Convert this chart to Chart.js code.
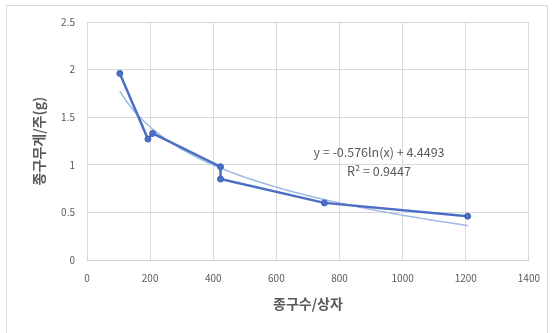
<!DOCTYPE html>
<html>
<head>
<meta charset="utf-8">
<script src="https://cdn.jsdelivr.net/npm/chart.js@4/dist/chart.umd.min.js"></script>
<style>
  html, body { margin: 0; padding: 0; background: #ffffff; }
  #wrap { width: 552px; height: 333px; position: relative; }
</style>
</head>
<body>
<div id="wrap"><canvas id="c" width="552" height="333"></canvas></div>
<script>
// Seed bulbs per box vs. bulb weight per plant
const seedCounts  = [104, 193, 208, 423, 423, 752, 1206];
const seedWeights = [1.96, 1.27, 1.33, 0.98, 0.85, 0.60, 0.46];

// Logarithmic trendline y = a*ln(x) + b and its fit
const trendSlope = -0.576;
const trendIntercept = 4.4493;
const trendR2 = 0.9447;

const xTicks = [0, 200, 400, 600, 800, 1000, 1200, 1400];
const yTicks = [0, 0.5, 1, 1.5, 2, 2.5];

const xTitle = '종구수/상자';
const yTitle = '종구무게/주(g)';
const eqLine1 = 'y = ' + trendSlope.toFixed(3) + 'ln(x) + ' + trendIntercept.toFixed(4);
const eqLine2 = 'R² = ' + trendR2.toFixed(4);

const FONT = "'Noto Sans CJK KR', 'Noto Sans', sans-serif";

// trendline drawn over the observed x range
const xMin = Math.min(...seedCounts), xMax = Math.max(...seedCounts);
const trendPts = [];
for (let x = xMin; x <= xMax; x += 10) {
  trendPts.push({ x: x, y: trendSlope * Math.log(x) + trendIntercept });
}
trendPts.push({ x: xMax, y: trendSlope * Math.log(xMax) + trendIntercept });

const mainPts = seedCounts.map((x, i) => ({ x: x, y: seedWeights[i] }));

const frame = {
  id: 'frame',
  beforeDraw(chart) {
    const ctx = chart.ctx;
    ctx.save();
    ctx.fillStyle = '#ffffff';
    ctx.fillRect(0, 0, chart.width, chart.height);
    ctx.strokeStyle = '#d9d9d9';
    ctx.lineWidth = 1;
    ctx.strokeRect(6.5, 5.5, 541, 340);
    ctx.restore();
  },
  afterDatasetsDraw(chart) {
    const ctx = chart.ctx;
    const xs = chart.scales.x;
    const ys = chart.scales.y;
    ctx.save();
    ctx.fillStyle = '#595959';
    ctx.font = '12.5px ' + FONT;
    ctx.textAlign = 'center';
    ctx.textBaseline = 'middle';
    const cx = xs.getPixelForValue(925);
    ctx.fillText(eqLine1, cx, ys.getPixelForValue(1.13));
    ctx.fillText(eqLine2, cx, ys.getPixelForValue(0.93));
    ctx.restore();
  }
};

const plainTick = v => String(v);

new Chart(document.getElementById('c'), {
  type: 'scatter',
  data: {
    datasets: [
      {
        data: trendPts,
        showLine: true,
        borderColor: '#9fb8e6',
        borderWidth: 1.5,
        pointRadius: 0,
        tension: 0,
        order: 2
      },
      {
        data: mainPts,
        showLine: true,
        borderColor: '#4a6fc4',
        backgroundColor: '#4a6fc4',
        borderWidth: 2.5,
        pointRadius: 3,
        pointBorderWidth: 1,
        pointBorderColor: '#3f62b5',
        tension: 0,
        order: 1
      }
    ]
  },
  options: {
    responsive: false,
    animation: false,
    devicePixelRatio: 1,
    layout: { padding: { left: 0, right: 22, top: 22, bottom: 0 } },
    plugins: {
      legend: { display: false },
      tooltip: { enabled: false }
    },
    scales: {
      x: {
        type: 'linear',
        min: xTicks[0],
        max: xTicks[xTicks.length - 1],
        afterBuildTicks(scale) { scale.ticks = xTicks.map(v => ({ value: v })); },
        afterFit(scale) { scale.height = 73; },
        grid: { color: '#d9d9d9', drawTicks: false },
        border: { color: '#d0d0d0' },
        ticks: { color: '#595959', font: { family: FONT, size: 10 }, padding: 12, maxRotation: 0, callback: plainTick },
        title: {
          display: true, text: xTitle, color: '#595959',
          font: { family: FONT, size: 14, weight: 'bold' },
          padding: { top: 0, bottom: 21 }
        }
      },
      y: {
        type: 'linear',
        min: yTicks[0],
        max: yTicks[yTicks.length - 1],
        afterBuildTicks(scale) { scale.ticks = yTicks.map(v => ({ value: v })); },
        afterFit(scale) { scale.width = 87; },
        grid: { color: '#d9d9d9', drawTicks: false },
        border: { display: false },
        ticks: { color: '#595959', font: { family: FONT, size: 10 }, padding: 12, callback: plainTick },
        title: {
          display: true, text: yTitle, color: '#595959',
          font: { family: FONT, size: 14, weight: 'bold' },
          padding: { top: 30, bottom: 0 }
        }
      }
    }
  },
  plugins: [frame]
});
</script>
</body>
</html>
